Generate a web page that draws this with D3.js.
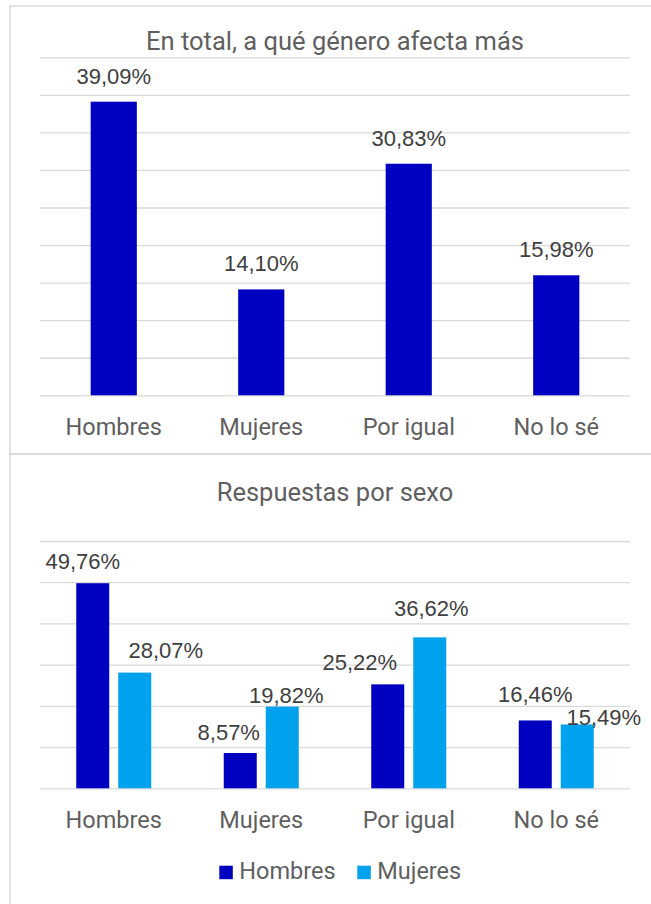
<!DOCTYPE html>
<html>
<head>
<meta charset="utf-8">
<script src="https://cdn.jsdelivr.net/npm/d3@7"></script>
<style>
  body { margin: 0; background: #fff; }
  .cat text, .legend text { font-family: Roboto, "Noto Sans", sans-serif; fill: #5f5f5f; }
  .lbl { font-family: "Liberation Sans", Arial, sans-serif; fill: #404040; }
</style>
</head>
<body>
<div id="chart"></div>
<script>
// data
var categories = ["Hombres", "Mujeres", "Por igual", "No lo sé"];
var totalValues = [39.09, 14.10, 30.83, 15.98];
var hombresValues = [49.76, 8.57, 25.22, 16.46];
var mujeresValues = [28.07, 19.82, 36.62, 15.49];
var seriesNames = ["Hombres", "Mujeres"];

// label nudges (px) for the second chart, where excel moved labels to avoid overlap
var hombresNudge = [[-10, 4], [-11.5, 5], [-28, 4], [0, 0]];
var mujeresNudge = [[31, 3], [4, 14.5], [1.5, -3], [26.5, 19]];

var width = 651, height = 904;
var dark = "#0000C0", light = "#00A2ED";
var grid = "#d9d9d9";

function fmt(v) { return v.toFixed(2).replace(".", ",") + "%"; }

var svg = d3.select("#chart").append("svg")
  .attr("width", width)
  .attr("height", height);

// chart frames
svg.append("rect").attr("x", 10).attr("y", 6).attr("width", 700).attr("height", 448)
  .attr("fill", "none").attr("stroke", grid).attr("stroke-width", 1.5);
svg.append("rect").attr("x", 10).attr("y", 454).attr("width", 700).attr("height", 500)
  .attr("fill", "none").attr("stroke", grid).attr("stroke-width", 1.5);

var left = 40, right = 630;

function drawGrid(y, ticks) {
  var g = svg.append("g")
    .attr("transform", "translate(" + left + ",0)")
    .call(d3.axisLeft(y).tickValues(ticks).tickSize(-(right - left)).tickFormat(""));
  g.select(".domain").remove();
  g.selectAll(".tick line").attr("stroke", grid).attr("stroke-width", 1.3);
}

function drawCats(x, yBase) {
  var g = svg.append("g")
    .attr("class", "cat")
    .attr("transform", "translate(0," + yBase + ")")
    .call(d3.axisBottom(x).tickSize(0).tickPadding(0));
  g.select(".domain").remove();
  g.selectAll("text")
    .attr("dy", null)
    .attr("y", 39.5)
    .style("font-size", "23.5px");
}

function drawTitle(txt, y) {
  svg.append("text")
    .attr("x", (left + right) / 2).attr("y", y)
    .attr("text-anchor", "middle")
    .style("font-family", "Roboto, sans-serif").style("fill", "#5f5f5f")
    .style("font-size", "25.5px")
    .text(txt);
}

// ---- chart 1
var x1 = d3.scaleBand().domain(categories).range([left, right])
  .paddingInner(0.687).paddingOuter(0.687 / 2);
var y1 = d3.scaleLinear().domain([0, 45]).range([395.3, 57.3]);

drawTitle("En total, a qué género afecta más", 50);
drawGrid(y1, d3.range(0, 46, 5));

svg.append("g").selectAll("rect")
  .data(totalValues)
  .join("rect")
  .attr("x", function (d, i) { return x1(categories[i]); })
  .attr("y", function (d) { return y1(d); })
  .attr("width", x1.bandwidth())
  .attr("height", function (d) { return y1(0) - y1(d); })
  .attr("fill", dark);

svg.append("g").selectAll("text")
  .data(totalValues)
  .join("text")
  .attr("class", "lbl")
  .attr("x", function (d, i) { return x1(categories[i]) + x1.bandwidth() / 2; })
  .attr("y", function (d) { return y1(d) - 18; })
  .attr("text-anchor", "middle")
  .style("font-size", "22px")
  .text(function (d) { return fmt(d); });

drawCats(x1, y1(0));

// ---- chart 2
var x0 = d3.scaleBand().domain(categories).range([left, right])
  .paddingInner(0.4915).paddingOuter(0.4915 / 2);
var xs = d3.scaleBand().domain(seriesNames).range([0, x0.bandwidth()]).paddingInner(0.214);
var y2 = d3.scaleLinear().domain([0, 60]).range([788.3, 541]);

drawTitle("Respuestas por sexo", 500.5);
drawGrid(y2, d3.range(0, 61, 10));

var series = [
  { name: "Hombres", values: hombresValues, color: dark, nudge: hombresNudge },
  { name: "Mujeres", values: mujeresValues, color: light, nudge: mujeresNudge }
];

series.forEach(function (s) {
  svg.append("g").selectAll("rect")
    .data(s.values)
    .join("rect")
    .attr("x", function (d, i) { return x0(categories[i]) + xs(s.name); })
    .attr("y", function (d) { return y2(d); })
    .attr("width", xs.bandwidth())
    .attr("height", function (d) { return y2(0) - y2(d); })
    .attr("fill", s.color);
});

series.forEach(function (s) {
  svg.append("g").selectAll("text")
    .data(s.values)
    .join("text")
    .attr("class", "lbl")
    .attr("x", function (d, i) { return x0(categories[i]) + xs(s.name) + xs.bandwidth() / 2 + s.nudge[i][0]; })
    .attr("y", function (d, i) { return y2(d) - 18 + s.nudge[i][1]; })
    .attr("text-anchor", "middle")
    .style("font-size", "22px")
    .text(function (d) { return fmt(d); });
});

drawCats(x0, y2(0));

// legend
var legend = svg.append("g").attr("class", "legend");
var legendX = [219.3, 357.3];
series.forEach(function (s, i) {
  legend.append("rect")
    .attr("x", legendX[i]).attr("y", 865.7)
    .attr("width", 13.5).attr("height", 13.5)
    .attr("fill", s.color);
  legend.append("text")
    .attr("x", legendX[i] + 20).attr("y", 879)
    .style("font-size", "23.5px")
    .text(s.name);
});
</script>
</body>
</html>
